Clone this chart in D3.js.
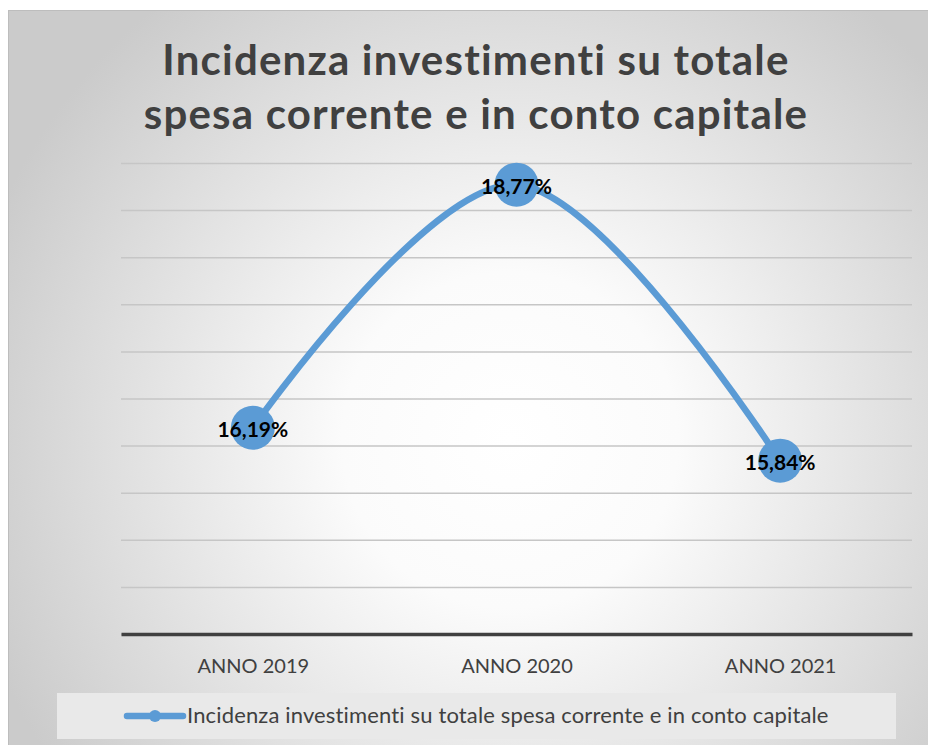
<!DOCTYPE html>
<html>
<head>
<meta charset="utf-8">
<script src="https://cdn.jsdelivr.net/npm/d3@7"></script>
<style>
  body { margin: 0; background: #fff; }
  svg text { font-family: Lato, 'Open Sans', sans-serif; }
</style>
</head>
<body>
<div id="chart"></div>
<script>
const years = ['ANNO 2019', 'ANNO 2020', 'ANNO 2021']
const values = [16.19, 18.77, 15.84]
const valueLabels = ['16,19%', '18,77%', '15,84%']
const yTicks = [14, 14.5, 15, 15.5, 16, 16.5, 17, 17.5, 18, 18.5, 19]
const titleLines = ['Incidenza investimenti su totale', 'spesa corrente e in conto capitale']
const seriesName = 'Incidenza investimenti su totale spesa corrente e in conto capitale'

const width = 928
const height = 745
const plot = { left: 121, right: 912, top: 163, bottom: 634 }
const blue = '#5b9bd5'

const svg = d3
  .select('#chart')
  .append('svg')
  .attr('width', width)
  .attr('height', height)

// radial background like the excel preset
const grad = svg
  .append('defs')
  .append('radialGradient')
  .attr('id', 'bg')
  .attr('gradientUnits', 'userSpaceOnUse')
  .attr('cx', 510)
  .attr('cy', 440)
  .attr('r', 560)
grad.append('stop').attr('offset', '0').attr('stop-color', '#ffffff')
grad.append('stop').attr('offset', '0.3').attr('stop-color', '#fbfbfb')
grad.append('stop').attr('offset', '1').attr('stop-color', '#cbcbcb')

svg
  .append('rect')
  .attr('x', 8.5)
  .attr('y', 10.5)
  .attr('width', 930)
  .attr('height', 745)
  .attr('fill', 'url(#bg)')
  .attr('stroke', '#bdbdbd')
  .attr('stroke-width', 1)

// title
svg
  .selectAll('.title')
  .data(titleLines)
  .enter()
  .append('text')
  .attr('class', 'title')
  .attr('x', 476)
  .attr('y', (d, i) => 75 + i * 54)
  .attr('text-anchor', 'middle')
  .attr('font-size', 42)
  .attr('font-weight', 'bold')
  .attr('letter-spacing', 1.2)
  .attr('fill', '#404040')
  .text(d => d)

const x = d3
  .scalePoint()
  .domain(years)
  .range([plot.left, plot.right])
  .padding(0.5)

const y = d3
  .scaleLinear()
  .domain([14, 19])
  .range([plot.bottom, plot.top])

// gridlines
const grid = svg
  .append('g')
  .attr('transform', `translate(${plot.left},0)`)
  .call(
    d3
      .axisLeft(y)
      .tickValues(yTicks)
      .tickSize(-(plot.right - plot.left))
      .tickFormat('')
  )
grid.select('.domain').remove()
grid
  .selectAll('line')
  .attr('stroke', '#c6c6c6')
  .attr('stroke-width', 1.5)

// category axis
const xAxis = svg
  .append('g')
  .attr('transform', `translate(0,${plot.bottom})`)
  .call(d3.axisBottom(x).tickSize(0))
xAxis
  .select('.domain')
  .attr('stroke', '#404040')
  .attr('stroke-width', 3.5)
xAxis
  .selectAll('text')
  .attr('y', 39)
  .attr('dy', 0)
  .attr('font-size', 20)
  .attr('fill', '#404040')
  .style('font-family', 'Lato, sans-serif')

const points = years.map((d, i) => ({ year: d, value: values[i], label: valueLabels[i] }))

const line = d3
  .line()
  .x(d => x(d.year))
  .y(d => y(d.value))
  .curve(d3.curveCardinal.tension(0))

svg
  .append('path')
  .datum(points)
  .attr('d', line)
  .attr('fill', 'none')
  .attr('stroke', blue)
  .attr('stroke-width', 6.5)
  .attr('stroke-linecap', 'round')

svg
  .selectAll('.marker')
  .data(points)
  .enter()
  .append('circle')
  .attr('class', 'marker')
  .attr('cx', d => x(d.year))
  .attr('cy', d => y(d.value))
  .attr('r', 22)
  .attr('fill', blue)

svg
  .selectAll('.value-label')
  .data(points)
  .enter()
  .append('text')
  .attr('class', 'value-label')
  .attr('x', d => x(d.year))
  .attr('y', d => y(d.value) + 9)
  .attr('text-anchor', 'middle')
  .attr('font-size', 21)
  .attr('font-weight', 'bold')
  .attr('fill', '#000')
  .text(d => d.label)

// legend
const legend = svg.append('g')
legend
  .append('rect')
  .attr('x', 57)
  .attr('y', 693)
  .attr('width', 839)
  .attr('height', 46)
  .attr('fill', '#e9e9e9')
legend
  .append('line')
  .attr('x1', 127)
  .attr('x2', 183)
  .attr('y1', 716)
  .attr('y2', 716)
  .attr('stroke', blue)
  .attr('stroke-width', 6.5)
  .attr('stroke-linecap', 'round')
legend
  .append('circle')
  .attr('cx', 155)
  .attr('cy', 716)
  .attr('r', 6)
  .attr('fill', blue)
legend
  .append('text')
  .attr('x', 187)
  .attr('y', 723)
  .attr('font-size', 22)
  .attr('letter-spacing', 0.15)
  .attr('fill', '#404040')
  .text(seriesName)
</script>
</body>
</html>
